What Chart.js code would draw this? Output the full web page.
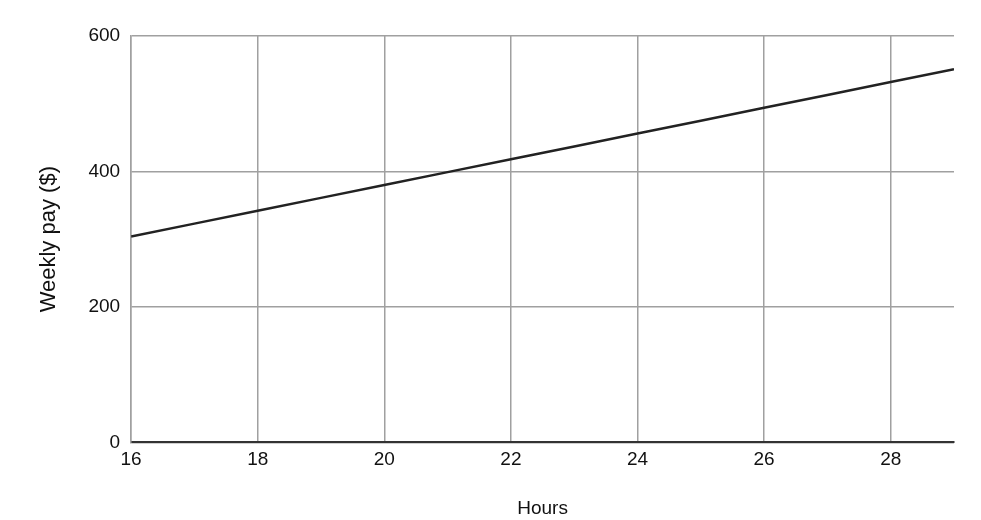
<!DOCTYPE html>
<html>
<head>
<meta charset="utf-8">
<script src="https://cdn.jsdelivr.net/npm/chart.js@4"></script>
<style>
  body { margin: 0; background: #fff; }
</style>
</head>
<body>
<canvas id="grafico" width="981" height="520"></canvas>
<script>
// Datos: pago semanal según horas trabajadas
const hours = [16, 17, 18, 19, 20, 21, 22, 23, 24, 25, 26, 27, 28, 29];
const weeklyPay = [304, 323, 342, 361, 380, 399, 418, 437, 456, 475, 494, 513, 532, 551];
const xTicks = [16, 18, 20, 22, 24, 26, 28];
const yTicks = [0, 200, 400, 600];

const gridColor = '#a0a0a0';
const familia = '"Liberation Sans", Arial, sans-serif';
const fuente = { family: familia, size: 19 };

new Chart(document.getElementById('grafico'), {
    type: 'line',
    data: {
        datasets: [{
            label: 'Weekly pay',
            data: hours.map((h, i) => ({ x: h, y: weeklyPay[i] })),
            borderColor: '#222',
            borderWidth: 2.5,
            pointRadius: 0,
            fill: false,
            tension: 0
        }]
    },
    options: {
        responsive: false,
        animation: false,
        layout: { padding: { top: 36, right: 27, bottom: 0, left: 36 } },
        plugins: {
            legend: { display: false },
            tooltip: { enabled: false }
        },
        scales: {
            x: {
                type: 'linear',
                min: 16,
                max: 29,
                afterBuildTicks: s => { s.ticks = xTicks.map(v => ({ value: v })); },
                grid: { color: gridColor, lineWidth: 1.5, drawTicks: false },
                border: { color: '#333', width: 2 },
                ticks: { color: '#111', font: fuente, padding: 6, maxRotation: 0 },
                title: { display: true, text: 'Hours', color: '#111', font: fuente, padding: { top: 20, bottom: 0 } }
            },
            y: {
                min: 0,
                max: 600,
                afterBuildTicks: s => { s.ticks = yTicks.map(v => ({ value: v })); },
                grid: { color: gridColor, lineWidth: 1.5, drawTicks: false },
                border: { color: gridColor, width: 1.5 },
                ticks: { color: '#111', font: fuente, padding: 11 },
                title: { display: true, text: 'Weekly pay ($)', color: '#111', font: { family: familia, size: 22 }, padding: { top: 0, bottom: 15 } }
            }
        }
    }
});
</script>
</body>
</html>
